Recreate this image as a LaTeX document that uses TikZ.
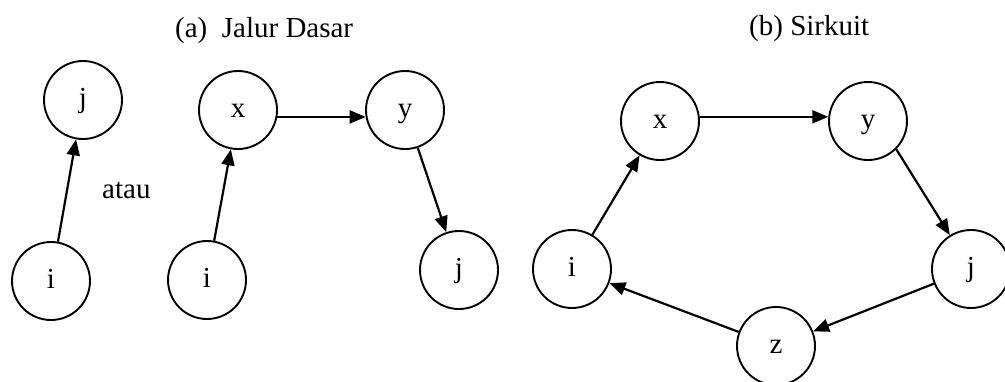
\documentclass[tikz,border=0pt]{standalone}
\usepackage{fontspec}
\setmainfont{Liberation Serif}
\usetikzlibrary{arrows.meta}
\begin{document}
\begin{tikzpicture}[x=1pt,y=-1pt,
  every node/.style={font=\fontsize{29}{34}\selectfont},
  vtx/.style={circle,draw,line width=1.9pt,minimum size=78pt,inner sep=0pt,
    text height=14pt,text depth=0pt},
  edge/.style={line width=2.2pt,-{Triangle[length=16pt,width=13pt]}},
  lbl/.style={anchor=base west,inner sep=0pt}]
\useasboundingbox (0,0) rectangle (1005,381);

% titles
\node[lbl] (ta) at (175,37) {(a)\ \ Jalur Dasar};
\node[lbl] (tb) at (749,35) {(b) Sirkuit};

% (a) basic paths
\node[vtx] (ja) at (83,100) {j};
\node[vtx] (ia) at (51,281) {i};
\node[lbl] (atau) at (102,198) {atau};
\node[vtx] (xa) at (238,110) {x};
\node[vtx] (ib) at (207,280) {i};
\node[vtx] (ya) at (405,110) {y};
\node[vtx] (jb) at (459,270) {j};

\draw[edge] (ia) -- (ja);
\draw[edge] (ib) -- (xa);
\draw[edge] (xa.-10) -- (ya.190);
\draw[edge] (ya) -- (jb);

% (b) circuit
\node[vtx] (xc) at (660,121) {x};
\node[vtx] (yc) at (868,121) {y};
\node[vtx] (ic) at (572,269) {i};
\node[vtx] (jc) at (971,269) {j};
\node[vtx] (zc) at (776,346) {z};

\draw[edge] (ic) -- (xc);
\draw[edge] (xc.6) -- (yc.174);
\draw[edge] (yc.-45) -- (jc);
\draw[edge] (jc) -- (zc);
\draw[edge] (zc) -- (ic);
\end{tikzpicture}
\end{document}
